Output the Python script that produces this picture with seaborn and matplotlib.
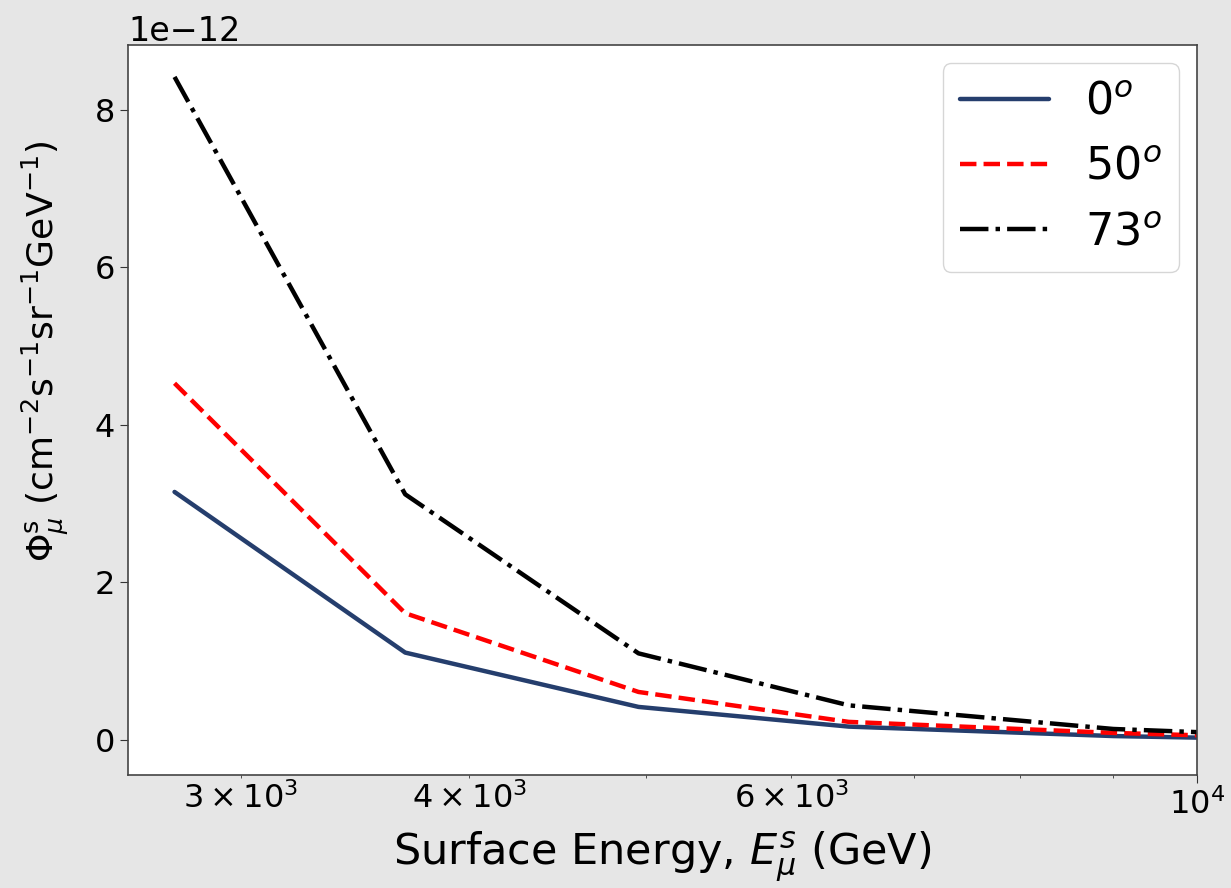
import numpy as np
import pandas as pd
import matplotlib
matplotlib.use("Agg")
import matplotlib.pyplot as plt
import seaborn as sns

# Data
energy = [2760, 3690, 4950, 6450, 9000, 10000]
flux_0 = [3.15e-12, 1.11e-12, 0.42e-12, 0.17e-12, 0.05e-12, 0.03e-12]
flux_50 = [4.53e-12, 1.61e-12, 0.61e-12, 0.23e-12, 0.09e-12, 0.06e-12]
flux_73 = [8.42e-12, 3.12e-12, 1.10e-12, 0.44e-12, 0.14e-12, 0.10e-12]
labels = ["0$^o$", "50$^o$", "73$^o$"]

sns.set_style("ticks")
plt.rcParams["font.family"] = ["DejaVu Sans"]
plt.rcParams["mathtext.fontset"] = "dejavusans"
plt.rcParams["text.color"] = "black"
plt.rcParams["axes.labelcolor"] = "black"
plt.rcParams["xtick.color"] = "#333333"
plt.rcParams["ytick.color"] = "#333333"

fig = plt.figure(figsize=(12.31, 8.88), dpi=100, facecolor="#e6e6e6")
ax = fig.add_axes([0.104, 0.1273, 0.8684, 0.822])
ax.set_facecolor("white")

series = [(flux_0, "#253e6d", "-"), (flux_50, "#ff0000", "--"), (flux_73, "#000000", "-.")]
for (vals, color, ls), lab in zip(series, labels):
    df = pd.DataFrame({"E": energy, "F": vals})
    sns.lineplot(data=df, x="E", y="F", ax=ax, color=color, linestyle=ls,
                 linewidth=3.2, label=lab)

ax.set_xscale("log")
ax.set_xlim(2603, 10000)
ax.set_ylim(-0.444e-12, 8.825e-12)
ax.set_yticks([0, 2e-12, 4e-12, 6e-12, 8e-12])

ax.tick_params(axis="both", which="both", labelsize=23, labelcolor="black")
ax.tick_params(axis="both", which="major", length=6)
ax.yaxis.get_offset_text().set_fontsize(24)
for s in ax.spines.values():
    s.set_color("#444444")
    s.set_linewidth(1.2)

ax.set_xlabel(r"Surface Energy, $E^{s}_{\mu}$ (GeV)", fontsize=31, labelpad=6)
ax.set_ylabel(r"$\Phi^{\rm s}_{\mu}$ (cm$^{-2}$s$^{-1}$sr$^{-1}$GeV$^{-1}$)", fontsize=26)
ax.yaxis.set_label_coords(-0.053, 0.58)

leg = ax.legend(loc="upper right", fontsize=32, handlelength=2.0, frameon=True,
                borderaxespad=0.4)
leg.get_frame().set_edgecolor("#cccccc")

fig.savefig("out.png", dpi=100, facecolor=fig.get_facecolor())
